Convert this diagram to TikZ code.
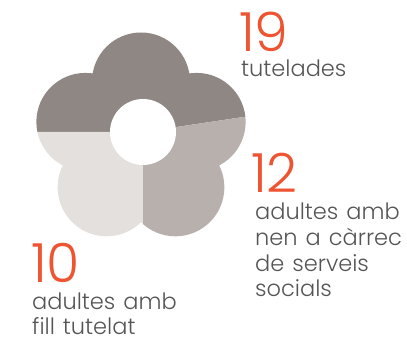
\documentclass[tikz,border=0pt]{standalone}
\usepackage{fontspec}
\setmainfont{Poppins}[UprightFont={* Light}, WordSpace=1.3]
\usetikzlibrary{calc}

% Farben
\definecolor{dunkel}{RGB}{142,135,131}
\definecolor{mittel}{RGB}{183,176,173}
\definecolor{hell}{RGB}{227,224,222}
\definecolor{orangerot}{RGB}{238,84,50}
\definecolor{textgrau}{RGB}{85,85,85}

\begin{document}
\begin{tikzpicture}[x=1pt,y=1pt,
    zahl/.style={anchor=base west, inner sep=0pt, text depth=0pt, text=orangerot, font=\fontsize{54}{54}\selectfont},
    beschr/.style={anchor=base west, inner sep=0pt, text=textgrau, align=left, font=\fontsize{22.5}{25.7}\selectfont}]
  % Rahmen festlegen
  \useasboundingbox (0,0) rectangle (407,342);

  % Mittelpunkte der Bluete und des Lochs
  \coordinate (mitte) at (141,202);
  \coordinate (loch) at (143,210);

  % Bluete in drei Sektoren (19, 10, 12)
  \foreach \von/\bis/\farbe in {8.5/180/dunkel, 180/270/hell, 270/368.5/mittel} {
    \begin{scope}
      \clip (loch) -- ++(\von:200) arc[start angle=\von, end angle=\bis, radius=200] -- cycle;
      \fill[\farbe] foreach \w in {18,90,162,234,306} {($(mitte)+(\w:58.5)$) circle (49)} (mitte) circle (30);
    \end{scope}
  }

  % Loch in der Mitte
  \fill[white] (loch) circle (33);

  % Zahlen und Beschriftungen (Basislinie der letzten Zeile)
  \node[zahl] (z19) at (239,290) {19};
  \node[beschr] (t19) at (241,265) {tutelades};
  \node[zahl] (z12) at (251,149) {12};
  \node[beschr] (t12) at (255,45) {adultes amb\\nen a càrrec\\de serveis\\socials};
  \node[zahl] (z10) at (31,59) {10};
  \node[beschr, text depth=0pt] (t10) at (32,7) {adultes amb\\fill tutelat};
\end{tikzpicture}
\end{document}
